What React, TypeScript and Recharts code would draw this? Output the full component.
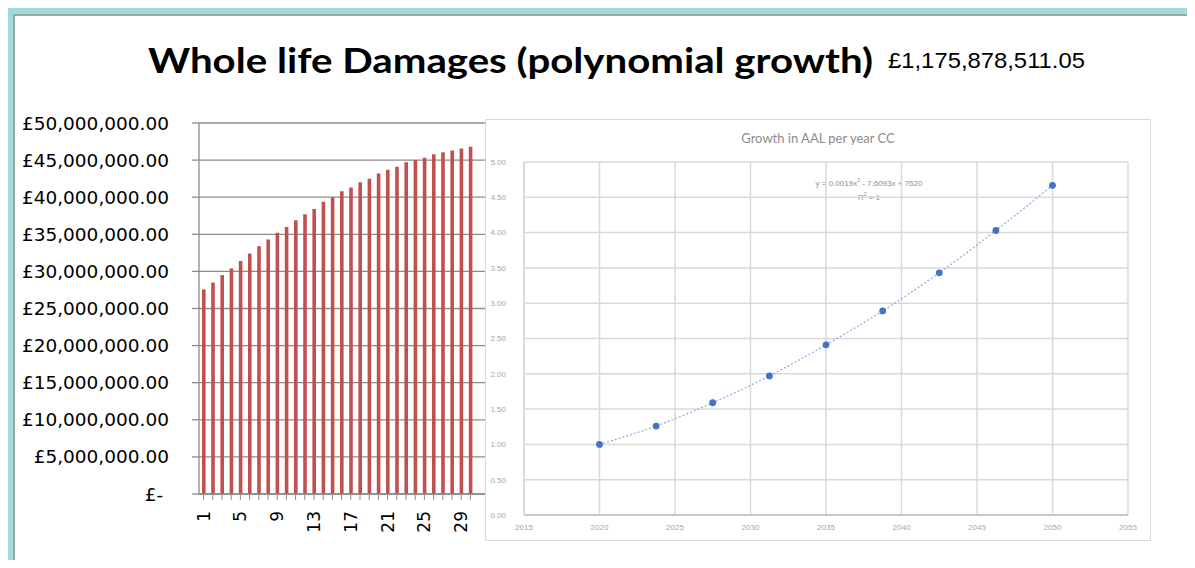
import { BarChart, Bar, XAxis, YAxis, CartesianGrid, ComposedChart, Line } from "recharts";

// whole life damages per year (£)
const YEARS = ["1","2","3","4","5","6","7","8","9","10","11","12","13","14","15","16","17","18","19","20","21","22","23","24","25","26","27","28","29","30"];
const DAMAGES = [
  27570000, 28500000, 29500000, 30400000, 31400000, 32400000, 33400000, 34300000, 35200000, 36000000,
  36900000, 37700000, 38400000, 39400000, 40000000, 40800000, 41300000, 42000000, 42500000, 43200000,
  43700000, 44100000, 44700000, 45000000, 45300000, 45800000, 46050000, 46300000, 46550000, 46800000,
];
const DAMAGE_TICKS = [0, 5e6, 10e6, 15e6, 20e6, 25e6, 30e6, 35e6, 40e6, 45e6, 50e6];
const TOTAL = "£1,175,878,511.05";

// growth in AAL (inset)
const AAL_YEARS = [2020, 2023.75, 2027.5, 2031.25, 2035, 2038.75, 2042.5, 2046.25, 2050];
const AAL = [1.0, 1.26, 1.59, 1.97, 2.41, 2.89, 3.43, 4.03, 4.67];
const AAL_X_TICKS = [2015, 2020, 2025, 2030, 2035, 2040, 2045, 2050, 2055];
const AAL_Y_TICKS = [0, 0.5, 1, 1.5, 2, 2.5, 3, 3.5, 4, 4.5, 5];

const barData = YEARS.map((y, i) => ({ year: y, damages: DAMAGES[i] }));
const aalData = AAL_YEARS.map((y, i) => ({ year: y, aal: AAL[i] }));

const money = (v: number) =>
  v === 0 ? "£-\u00a0" : "£" + v.toLocaleString("en-GB", { minimumFractionDigits: 2, maximumFractionDigits: 2 });

const YearTick = (props: any) => {
  const { x, y, payload, index } = props;
  if (index % 4 !== 0) return null;
  return (
    <text x={x} y={y} transform={`rotate(-90 ${x} ${y})`} textAnchor="end" dominantBaseline="central"
      fontSize={17} fill="#000" fontFamily="DejaVu Sans">{payload.value}</text>
  );
};

const GREY = "#8c8c8c";

export default function App() {
  return (
    <div style={{ position: "relative", width: 1195, height: 568, margin: -8, background: "#fff", overflow: "hidden" }}>
      {/* frame */}
      <div style={{ position: "absolute", left: 8, top: 7, width: 1187, height: 7, background: "#9ddcdc" }} />
      <div style={{ position: "absolute", left: 8, top: 7, width: 5, height: 561, background: "#9ddcdc" }} />
      <div style={{ position: "absolute", left: 13, top: 14, width: 1182, height: 2, background: "#a3a3a3" }} />
      <div style={{ position: "absolute", left: 13, top: 14, width: 2, height: 554, background: "#a3a3a3" }} />

      {/* title */}
      <svg style={{ position: "absolute", left: 0, top: 0 }} width={1195} height={100}>
        <text x={148} y={73} fontFamily="Lato" fontWeight="bold" fontSize={35} fill="#000"
          textLength={725} lengthAdjust="spacingAndGlyphs">Whole life Damages (polynomial growth)</text>
        <text x={888} y={68} fontFamily="Liberation Sans" fontSize={22} fill="#000"
          textLength={197} lengthAdjust="spacingAndGlyphs">{TOTAL}</text>
      </svg>

      {/* damages bar chart */}
      <div style={{ position: "absolute", left: 0, top: 0 }}>
        <BarChart width={600} height={568} data={barData} margin={{ top: 123, right: 113, left: 0, bottom: 0 }}>
          <CartesianGrid vertical={false} stroke="#8c8c8c" strokeWidth={1.3} />
          <XAxis dataKey="year" interval={0} height={74} padding={{ left: 0, right: 12 }}
            tick={<YearTick />} tickSize={6} tickMargin={11}
            tickLine={{ stroke: "#8c8c8c" }} axisLine={{ stroke: "#8c8c8c", strokeWidth: 1.3 }} />
          <YAxis domain={[0, 50000000]} ticks={DAMAGE_TICKS} width={199} tickFormatter={money}
            tickSize={7} tickMargin={23} tickLine={{ stroke: "#8c8c8c", strokeWidth: 1.3 }}
            axisLine={{ stroke: "#8c8c8c", strokeWidth: 1.3 }}
            tick={{ fontSize: 18.5, fill: "#000", fontFamily: "DejaVu Sans" }} />
          <Bar dataKey="damages" fill="#c0504d" barSize={3.6} isAnimationActive={false} />
        </BarChart>
      </div>

      {/* inset: growth in AAL */}
      <div style={{ position: "absolute", left: 485, top: 119, width: 664, height: 420, background: "#fff", border: "1px solid #d9d9d9" }}>
        <div style={{ position: "absolute", left: 0, top: 10, width: 664, textAlign: "center", fontFamily: "Lato", fontSize: 13, color: GREY }}>
          Growth in AAL per year CC
        </div>
        <div style={{ position: "absolute", left: 283, top: 55, width: 200, textAlign: "center", fontFamily: "Liberation Sans", fontSize: 8, lineHeight: "10px", color: GREY }}>
          y = 0.0019x<sup style={{ fontSize: 5 }}>2</sup> - 7.6093x + 7620<br />R<sup style={{ fontSize: 5 }}>2</sup> = 1
        </div>
        <ComposedChart width={664} height={420} data={aalData} margin={{ top: 42, right: 22, left: 0, bottom: 0 }}>
          <CartesianGrid stroke="#d9d9d9" strokeWidth={1.5} />
          <XAxis dataKey="year" type="number" domain={[2015, 2055]} ticks={AAL_X_TICKS} height={25}
            tickLine={false} axisLine={{ stroke: "#bfbfbf", strokeWidth: 1.5 }} tickMargin={3}
            tick={{ fontSize: 8, fill: "#a6a6a6", fontFamily: "Liberation Sans" }} />
          <YAxis type="number" domain={[0, 5]} ticks={AAL_Y_TICKS} width={38} tickFormatter={(v: number) => v.toFixed(2)}
            tickLine={false} axisLine={{ stroke: "#d9d9d9", strokeWidth: 1.5 }} tickMargin={12}
            tick={{ fontSize: 8, fill: "#a6a6a6", fontFamily: "Liberation Sans" }} />
          <Line dataKey="aal" type="monotone" stroke="#8faadc" strokeWidth={1.2} strokeDasharray="2 2"
            isAnimationActive={false}
            dot={(p: any) => <circle key={p.index} cx={p.cx} cy={p.cy} r={3.4} fill="#4472c4" />} />
        </ComposedChart>
      </div>
    </div>
  );
}
